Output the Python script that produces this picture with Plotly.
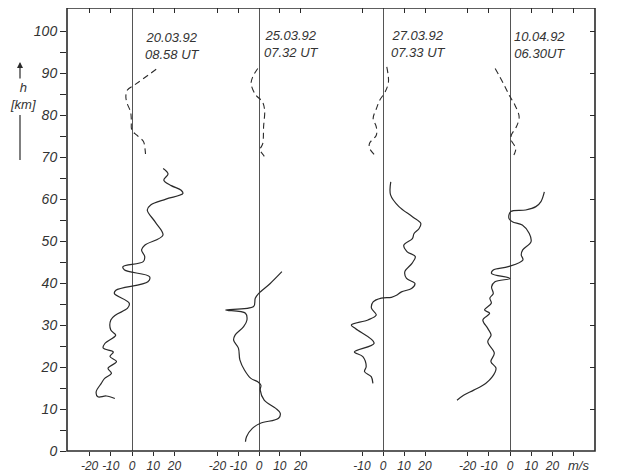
import plotly.graph_objects as go

# ---------------- data (height km, wind m/s) ----------------
dates = ["20.03.92", "25.03.92", "27.03.92", "10.04.92"]
times = ["08.58 UT", "07.32 UT", "07.33 UT", "06.30UT"]

p1_solid_h = [67.3, 66.0, 64.5, 63.2, 62.1, 61.3, 60.0, 58.6, 57.4, 54.5, 51.4, 49.0, 47.9, 46.3, 45.1, 43.9, 43.1, 41.5, 40.3,
              38.3, 37.5, 35.2, 34.0, 32.4, 31.2, 28.8, 27.6, 25.6, 24.5, 23.6, 22.5, 21.3, 19.7, 18.5, 17.3, 16.1, 14.1, 12.9, 13.1, 12.5]
p1_solid_v = [14.7, 17.0, 15.0, 18.5, 23.2, 24.0, 16.0, 8.8, 7.2, 11.0, 14.6, 6.0, 4.5, 6.0, 5.3, -4.3, -3.5, 8.3, 7.5,
              -7.6, -8.3, -1.3, -2.1, -7.7, -10.0, -10.0, -7.7, -12.8, -13.6, -8.8, -10.4, -7.3, -11.3, -9.7, -12.9, -14.5, -16.9, -16.1, -12.1, -8.1]
p1_dash_h = [90.9, 87.1, 86.0, 84.4, 82.8, 80.8, 78.8, 76.4, 75.2, 73.7, 72.1, 69.7]
p1_dash_v = [11.4, 1.0, -2.1, -2.9, -2.3, -0.7, -0.3, -0.1, 2.3, 5.4, 6.1, 6.5]

p2_solid_h = [42.7, 39.9, 37.5, 36.4, 34.4, 33.6, 32.8, 31.2, 29.6, 27.6, 26.4, 24.5, 21.7, 19.3, 17.3, 16.5, 15.7, 14.5,
              12.1, 10.2, 9.0, 7.8, 6.6, 5.4, 3.4, 2.2]
p2_solid_v = [11.0, 5.4, -0.2, -1.8, -2.6, -16.0, -6.5, -5.8, -7.4, -11.5, -12.2, -9.9, -9.2, -7.0, -3.9, -0.6, 0.9, 0.6,
              2.5, 7.9, 10.2, 9.4, 0.7, -3.2, -6.0, -6.5]
p2_dash_h = [91.1, 89.1, 87.5, 84.8, 83.2, 81.2, 77.2, 73.2, 71.7, 70.5, 69.3]
p2_dash_v = [-0.6, -3.0, -3.8, -1.6, 1.6, 2.7, 2.2, 1.8, 0.5, 2.1, 3.7]

p3_solid_h = [64.1, 61.0, 58.2, 55.8, 54.2, 53.0, 51.8, 50.6, 49.0, 47.5, 46.3, 44.7, 42.7, 41.1, 39.9, 38.7, 37.9, 37.1,
              36.6, 36.4, 35.5, 34.0, 32.4, 31.2, 30.0, 29.1, 25.7, 23.6, 22.5, 20.1, 18.9, 17.7, 16.1]
p3_solid_v = [3.7, 3.6, 7.6, 14.0, 18.0, 17.2, 14.8, 14.0, 9.9, 11.4, 15.4, 13.8, 10.4, 11.2, 15.2, 13.6, 8.8, 6.4,
              4.0, -0.8, -4.7, -5.5, -3.2, -7.2, -15.1, -13.0, -4.2, -13.6, -9.6, -8.0, -8.8, -5.6, -4.8]
p3_dash_h = [91.5, 87.9, 85.5, 83.6, 81.6, 79.2, 77.2, 75.2, 73.3, 72.1, 70.5]
p3_dash_v = [1.8, 2.6, 1.0, -1.5, -3.1, -4.7, -3.2, -3.2, -6.4, -6.4, -4.0]

p4_solid_h = [61.7, 59.4, 58.2, 57.4, 57.0, 55.4, 54.6, 53.8, 51.8, 49.8, 47.9, 46.7, 45.5, 43.9, 43.1, 42.3, 41.1, 40.3,
              39.1, 37.5, 36.4, 35.2, 33.6, 32.8, 31.2, 29.2, 27.6, 26.0, 23.3, 21.3, 19.7, 17.7, 16.1, 14.5, 13.3, 12.1]
p4_solid_v = [16.2, 14.6, 12.2, 7.4, 0.3, -0.5, 1.1, 5.8, 9.1, 9.9, 6.0, 5.3, 6.1, -0.8, -7.9, -8.7, 0.0, -7.1,
              -8.7, -7.9, -9.5, -8.8, -12.0, -9.6, -12.8, -10.5, -8.9, -10.5, -7.4, -9.0, -6.6, -8.3, -11.5, -17.1, -21.9, -25.0]
p4_dash_h = [91.1, 87.5, 84.4, 82.4, 79.6, 77.2, 75.2, 74.0, 72.1, 70.9, 70.1]
p4_dash_v = [-7.0, -3.1, 0.0, 2.3, 4.3, 3.0, 0.6, 0.6, 2.7, 2.2, 1.4]

solid_h = [p1_solid_h, p2_solid_h, p3_solid_h, p4_solid_h]
solid_v = [p1_solid_v, p2_solid_v, p3_solid_v, p4_solid_v]
dash_h = [p1_dash_h, p2_dash_h, p3_dash_h, p4_dash_h]
dash_v = [p1_dash_v, p2_dash_v, p3_dash_v, p4_dash_v]

x_tickvals = [[-20, -10, 0, 10, 20], [-20, -10, 0, 10, 20, 30], [-10, 0, 10, 20], [-20, -10, 0, 10, 20, 30]]
x_ticktext = [["-20", "-10", "0", "10", "20"], ["-20", "-10", "0", "10", "20", "30"], ["-10", "0", "10", "20"],
              ["-20", "-10", "0", "10", "20", ""]]
h_ticks = list(range(0, 101, 5))
h_labels = [str(v) if v % 10 == 0 else "" for v in h_ticks]

# ---------------- layout geometry (page pixels) ----------------
BODY = 8                      # default page margin of the html body
W, H = 620 - BODY, 476 - BODY
PL, PR, PT, PB = 67, 595, 8, 451   # plot frame in page pixels
L = PL - BODY
T = PT - BODY
R = (BODY + W) - PR
B = (BODY + H) - PB
PW, PH = PR - PL, PB - PT
zero_px = [132, 259, 383, 510]
bounds_px = [67, 195, 321, 446, 595]
px_per_ms = [2.12, 2.08, 2.1, 2.12]
YMAX = 105.5

def pxx(px):
    return (px - PL) / PW

def pxy(py):
    return (PB - py) / PH

INK = "#2a2a2a"
FONT = "Liberation Sans Narrow, Liberation Sans, Arial, sans-serif"

fig = go.Figure()
for i in range(4):
    xa = "x" if i == 0 else f"x{i+1}"
    fig.add_trace(go.Scatter(x=solid_v[i], y=solid_h[i], xaxis=xa, yaxis="y", mode="lines",
                             line=dict(color=INK, width=1.2, shape="spline", smoothing=1.0),
                             hoverinfo="skip", showlegend=False))
    fig.add_trace(go.Scatter(x=dash_v[i], y=dash_h[i], xaxis=xa, yaxis="y", mode="lines",
                             line=dict(color=INK, width=1.1, shape="spline", smoothing=1.0, dash="6px,4px"),
                             hoverinfo="skip", showlegend=False))
    fig.add_trace(go.Scatter(x=[], y=[], xaxis=f"x{i+5}", yaxis="y", hoverinfo="skip", showlegend=False))
fig.add_trace(go.Scatter(x=[], y=[], xaxis="x4", yaxis="y2", hoverinfo="skip", showlegend=False))

layout = dict(
    width=W, height=H, margin=dict(l=L, r=R, t=T, b=B, autoexpand=False),
    paper_bgcolor="white", plot_bgcolor="white",
    showlegend=False,
    yaxis=dict(range=[0, YMAX], domain=[0, 1], anchor="x", side="left",
               tickmode="array", tickvals=h_ticks, ticktext=h_labels,
               ticks="outside", ticklen=6, tickcolor=INK, showgrid=False, zeroline=False, showline=False,
               tickfont=dict(family=FONT, size=14, color="#333", style="italic")),
    yaxis2=dict(range=[0, YMAX], overlaying="y", side="right", anchor="x4",
                tickmode="array", tickvals=list(range(0, 101, 10)),
                ticks="inside", ticklen=5, tickcolor=INK, showticklabels=False,
                showgrid=False, zeroline=False, showline=False),
)
for i in range(4):
    d0, d1 = pxx(bounds_px[i]), pxx(bounds_px[i + 1])
    r0 = (bounds_px[i] - zero_px[i]) / px_per_ms[i]
    r1 = (bounds_px[i + 1] - zero_px[i]) / px_per_ms[i]
    key = "xaxis" if i == 0 else f"xaxis{i+1}"
    layout[key] = dict(domain=[d0, d1], range=[r0, r1], anchor="y",
                       tickmode="array", tickvals=x_tickvals[i], ticktext=x_ticktext[i],
                       ticks="outside", ticklen=4, tickcolor=INK, showgrid=False,
                       zeroline=True, zerolinecolor="#555", zerolinewidth=1, showline=False,
                       tickfont=dict(family=FONT, size=12, color="#333", style="italic"))
    top_vals = [v for v in x_tickvals[i] if v != 0]
    layout[f"xaxis{i+5}"] = dict(overlaying="x" if i == 0 else f"x{i+1}", side="top", anchor="y",
                                 range=[r0, r1], tickmode="array", tickvals=top_vals,
                                 ticks="inside", ticklen=5, tickcolor=INK, showticklabels=False,
                                 showgrid=False, zeroline=False, showline=False)
fig.update_layout(**layout)

# frame
fig.add_shape(type="rect", xref="paper", yref="paper", x0=0, x1=1, y0=0, y1=1,
              line=dict(color=INK, width=1.6))

TXT = dict(family=FONT, size=13, color="#333", style="italic")

# date / time labels
label_px = [(172, 46), (291, 44), (418, 44), (539, 45)]
for i in range(4):
    cx, cy = label_px[i]
    fig.add_annotation(text=dates[i] + "<br>" + times[i], xref="paper", yref="paper", x=pxx(cx), y=pxy(cy),
                       xanchor="center", yanchor="middle", showarrow=False, align="center", font=TXT)

# units
fig.add_annotation(text="m/s", xref="paper", yref="paper", x=pxx(578), y=pxy(465),
                   xanchor="center", yanchor="middle", showarrow=False, font=TXT)
fig.add_annotation(text="h<br>[km]", xref="paper", yref="paper", x=pxx(23), y=pxy(96),
                   xanchor="center", yanchor="middle", showarrow=False, align="center", font=TXT)
fig.add_annotation(text="", xref="paper", yref="paper", x=pxx(20), y=pxy(62),
                   ax=0, ay=18, showarrow=True, arrowhead=2, arrowsize=1, arrowwidth=1.2, arrowcolor=INK)
fig.add_shape(type="line", xref="paper", yref="paper", x0=pxx(20), x1=pxx(20), y0=pxy(115), y1=pxy(160),
              line=dict(color=INK, width=1.2))

fig.write_html("out.html")
